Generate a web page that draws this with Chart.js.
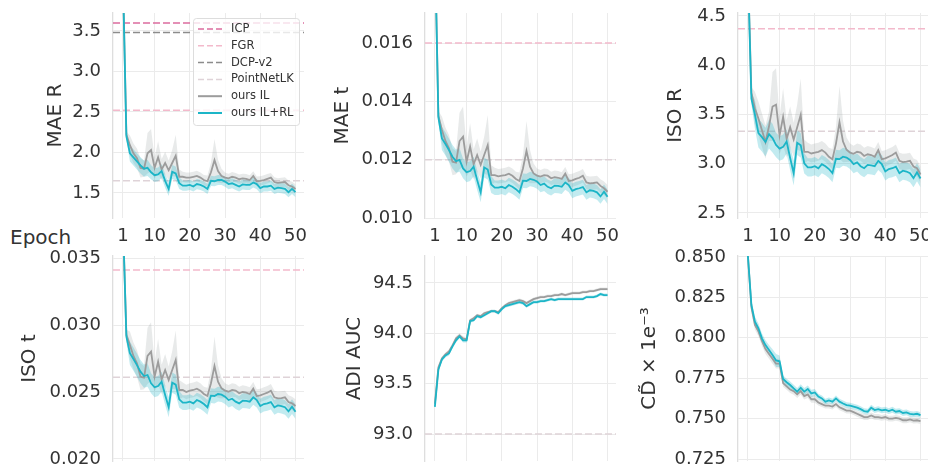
<!DOCTYPE html>
<html>
<head>
<meta charset="utf-8">
<script src="https://cdn.jsdelivr.net/npm/chart.js@4.4.0/dist/chart.umd.min.js"></script>
<style>
  html, body { margin: 0; padding: 0; background: #fff; overflow: hidden; width: 928px; height: 472px; }
  canvas { position: absolute; }
  #epoch { position: absolute; left: 10px; top: 227px; font-family: "DejaVu Sans"; font-size: 20px; line-height: 20px; color: #333; }
</style>
</head>
<body>
<div id="epoch">Epoch</div>
<script>
// ---- data ----
const epochs = Array.from({ length: 50 }, (_, i) => i + 1);
const xTicks = [1, 10, 20, 30, 40, 50];
const methodNames = ['ICP', 'FGR', 'DCP-v2', 'PointNetLK', 'ours IL', 'ours IL+RL'];

// MAE R
const maeRTicks = [1.5, 2.0, 2.5, 3.0, 3.5];
const maeRBaselines = [3.60, 2.52, 3.48, 1.65];
const maeRIl = [4.20, 2.22, 2.09, 1.99, 1.93, 1.81, 1.80, 1.99, 2.03, 1.81,
  1.94, 1.79, 1.87, 1.78, 1.87, 1.96, 1.70, 1.70, 1.69, 1.69,
  1.70, 1.71, 1.69, 1.66, 1.645, 1.755, 1.905, 1.77, 1.71, 1.69,
  1.68, 1.70, 1.69, 1.67, 1.68, 1.675, 1.66, 1.71, 1.645, 1.65,
  1.66, 1.675, 1.69, 1.635, 1.625, 1.63, 1.635, 1.595, 1.58, 1.55];
const maeRIlBand = [0, 0.04, 0.12, 0.12, 0.12, 0.12, 0.10, 0.25, 0.26, 0.13,
  0.20, 0.13, 0.14, 0.12, 0.16, 0.26, 0.09, 0.063, 0.063, 0.063,
  0.063, 0.063, 0.063, 0.063, 0.072, 0.12, 0.26, 0.14, 0.09, 0.063,
  0.058, 0.058, 0.058, 0.058, 0.058, 0.058, 0.058, 0.058, 0.058, 0.058,
  0.058, 0.058, 0.058, 0.058, 0.058, 0.058, 0.058, 0.058, 0.058, 0.058];
const maeRIlRl = [4.20, 2.20, 1.99, 1.94, 1.89, 1.84, 1.80, 1.81, 1.755, 1.72,
  1.73, 1.77, 1.65, 1.55, 1.76, 1.74, 1.62, 1.59, 1.59, 1.60,
  1.58, 1.61, 1.60, 1.58, 1.55, 1.65, 1.645, 1.66, 1.66, 1.64,
  1.61, 1.62, 1.60, 1.58, 1.605, 1.60, 1.60, 1.63, 1.61, 1.56,
  1.58, 1.58, 1.59, 1.55, 1.565, 1.56, 1.55, 1.51, 1.55, 1.51];
const maeRIlRlBand = [0, 0.04, 0.10, 0.10, 0.10, 0.10, 0.10, 0.10, 0.086, 0.086,
  0.086, 0.086, 0.086, 0.086, 0.086, 0.086, 0.072, 0.063, 0.063, 0.063,
  0.063, 0.063, 0.063, 0.063, 0.063, 0.063, 0.063, 0.063, 0.063, 0.063,
  0.063, 0.063, 0.063, 0.063, 0.063, 0.063, 0.063, 0.063, 0.063, 0.063,
  0.063, 0.063, 0.063, 0.063, 0.063, 0.063, 0.063, 0.063, 0.063, 0.063];

// MAE t
const maeTTicks = [0.010, 0.012, 0.014, 0.016];
const maeTBaselines = [null, 0.0160, null, 0.0120];
const maeTIl = [0.0195, 0.01350, 0.01302, 0.01264, 0.01239, 0.01193, 0.01190, 0.01264, 0.01279, 0.01193,
  0.01245, 0.01184, 0.01216, 0.01182, 0.01216, 0.01250, 0.01147, 0.01147, 0.01143, 0.01145,
  0.01147, 0.01152, 0.01145, 0.01134, 0.01127, 0.01170, 0.01230, 0.01176, 0.01153, 0.01145,
  0.01142, 0.01147, 0.01145, 0.01136, 0.01140, 0.01138, 0.01134, 0.01152, 0.01127, 0.01129,
  0.01134, 0.01138, 0.01145, 0.01122, 0.01119, 0.01120, 0.01122, 0.01110, 0.01102, 0.01090];
const maeTIlBand = [0, 0.00017, 0.00046, 0.00046, 0.00046, 0.00046, 0.0004, 0.00097, 0.00103, 0.00051,
  0.0008, 0.00051, 0.00057, 0.00046, 0.00063, 0.00103, 0.00034, 0.00025, 0.00025, 0.00025,
  0.00025, 0.00025, 0.00025, 0.00025, 0.00029, 0.00046, 0.00103, 0.00057, 0.00034, 0.00025,
  0.00023, 0.00023, 0.00023, 0.00023, 0.00023, 0.00023, 0.00023, 0.00023, 0.00023, 0.00023,
  0.00023, 0.00023, 0.00023, 0.00023, 0.00023, 0.00023, 0.00023, 0.00023, 0.00023, 0.00023];
const maeTIlRl = [0.0195, 0.01345, 0.01273, 0.01254, 0.01233, 0.01210, 0.01195, 0.01199, 0.01170, 0.01157,
  0.01161, 0.01176, 0.01130, 0.01088, 0.01173, 0.01166, 0.01115, 0.01104, 0.01104, 0.01107,
  0.01102, 0.01113, 0.01107, 0.01099, 0.01088, 0.01128, 0.01127, 0.01134, 0.01131, 0.01125,
  0.01113, 0.01118, 0.01107, 0.01102, 0.01111, 0.01110, 0.01107, 0.01122, 0.01113, 0.01093,
  0.01099, 0.01102, 0.01106, 0.01088, 0.01095, 0.01093, 0.01088, 0.01074, 0.01090, 0.01073];
const maeTIlRlBand = [0, 0.00017, 0.0004, 0.0004, 0.0004, 0.0004, 0.0004, 0.0004, 0.00034, 0.00034,
  0.00034, 0.00034, 0.00034, 0.00034, 0.00034, 0.00034, 0.00029, 0.00025, 0.00025, 0.00025,
  0.00025, 0.00025, 0.00025, 0.00025, 0.00025, 0.00025, 0.00025, 0.00025, 0.00025, 0.00025,
  0.00025, 0.00025, 0.00025, 0.00025, 0.00025, 0.00025, 0.00025, 0.00025, 0.00025, 0.00025,
  0.00025, 0.00025, 0.00025, 0.00025, 0.00025, 0.00025, 0.00025, 0.00025, 0.00025, 0.00025];

// ISO R
const isoRTicks = [2.5, 3.0, 3.5, 4.0, 4.5];
const isoRBaselines = [null, 4.37, null, 3.33];
const isoRIl = [5.00, 3.72, 3.56, 3.46, 3.34, 3.22, 3.38, 3.58, 3.60, 3.288,
  3.475, 3.254, 3.371, 3.246, 3.371, 3.496, 3.121, 3.121, 3.104, 3.113,
  3.121, 3.138, 3.113, 3.071, 3.046, 3.204, 3.421, 3.225, 3.142, 3.113,
  3.100, 3.121, 3.113, 3.079, 3.096, 3.088, 3.071, 3.138, 3.046, 3.054,
  3.071, 3.088, 3.113, 3.029, 3.017, 3.021, 3.029, 2.971, 2.954, 2.890];
const isoRIlBand = [0, 0.06, 0.17, 0.17, 0.17, 0.17, 0.15, 0.35, 0.37, 0.19,
  0.29, 0.19, 0.21, 0.17, 0.23, 0.37, 0.125, 0.092, 0.092, 0.092,
  0.092, 0.092, 0.092, 0.092, 0.104, 0.17, 0.37, 0.21, 0.125, 0.092,
  0.083, 0.083, 0.083, 0.083, 0.083, 0.083, 0.083, 0.083, 0.083, 0.083,
  0.083, 0.083, 0.083, 0.083, 0.083, 0.083, 0.083, 0.083, 0.083, 0.083];
const isoRIlRl = [5.00, 3.66, 3.50, 3.31, 3.27, 3.22, 3.30, 3.26, 3.19, 3.154,
  3.171, 3.225, 3.058, 2.904, 3.213, 3.188, 3.004, 2.963, 2.963, 2.975,
  2.954, 2.996, 2.975, 2.946, 2.904, 3.050, 3.046, 3.071, 3.063, 3.038,
  2.996, 3.013, 2.975, 2.954, 2.988, 2.983, 2.975, 3.029, 2.996, 2.921,
  2.946, 2.954, 2.971, 2.904, 2.929, 2.921, 2.904, 2.854, 2.913, 2.850];
const isoRIlRlBand = [0, 0.06, 0.146, 0.146, 0.146, 0.146, 0.146, 0.146, 0.125, 0.125,
  0.125, 0.125, 0.125, 0.125, 0.125, 0.125, 0.104, 0.092, 0.092, 0.092,
  0.092, 0.092, 0.092, 0.092, 0.092, 0.092, 0.092, 0.092, 0.092, 0.092,
  0.092, 0.092, 0.092, 0.092, 0.092, 0.092, 0.092, 0.092, 0.092, 0.092,
  0.092, 0.092, 0.092, 0.092, 0.092, 0.092, 0.092, 0.092, 0.092, 0.092];

// ISO t
const isoTTicks = [0.020, 0.025, 0.030, 0.035];
const isoTBaselines = [null, 0.0341, null, 0.0261];
const isoTIl = [0.0380, 0.02925, 0.02851, 0.02769, 0.02714, 0.02614, 0.02607, 0.02769, 0.02801, 0.02614,
  0.02726, 0.02594, 0.02664, 0.02590, 0.02664, 0.02739, 0.02515, 0.02515, 0.02500, 0.02510,
  0.02515, 0.02525, 0.02510, 0.02485, 0.02470, 0.02565, 0.02694, 0.02577, 0.02527, 0.02510,
  0.02502, 0.02515, 0.02510, 0.02490, 0.02500, 0.02495, 0.02485, 0.02525, 0.02470, 0.02475,
  0.02485, 0.02495, 0.02510, 0.02460, 0.02452, 0.02455, 0.02460, 0.02425, 0.02415, 0.02395];
const isoTIlBand = [0, 0.0004, 0.001, 0.001, 0.001, 0.001, 0.00087, 0.0021, 0.0022, 0.0011,
  0.0017, 0.0011, 0.0012, 0.001, 0.0014, 0.0022, 0.00075, 0.00055, 0.00055, 0.00055,
  0.00055, 0.00055, 0.00055, 0.00055, 0.00062, 0.001, 0.0022, 0.0012, 0.00075, 0.00055,
  0.0005, 0.0005, 0.0005, 0.0005, 0.0005, 0.0005, 0.0005, 0.0005, 0.0005, 0.0005,
  0.0005, 0.0005, 0.0005, 0.0005, 0.0005, 0.0005, 0.0005, 0.0005, 0.0005, 0.0005];
const isoTIlRl = [0.0380, 0.02913, 0.02789, 0.02746, 0.02701, 0.02652, 0.02619, 0.02627, 0.02565, 0.02535,
  0.02545, 0.02577, 0.02478, 0.02386, 0.02570, 0.02555, 0.02445, 0.02420, 0.02420, 0.02428,
  0.02415, 0.02440, 0.02428, 0.02410, 0.02386, 0.02473, 0.02470, 0.02485, 0.02480, 0.02465,
  0.02440, 0.02450, 0.02428, 0.02415, 0.02435, 0.02433, 0.02428, 0.02460, 0.02440, 0.02395,
  0.02410, 0.02415, 0.02425, 0.02386, 0.02400, 0.02395, 0.02386, 0.02356, 0.02390, 0.02353];
const isoTIlRlBand = [0, 0.0004, 0.00087, 0.00087, 0.00087, 0.00087, 0.00087, 0.00087, 0.00075, 0.00075,
  0.00075, 0.00075, 0.00075, 0.00075, 0.00075, 0.00075, 0.00062, 0.00055, 0.00055, 0.00055,
  0.00055, 0.00055, 0.00055, 0.00055, 0.00055, 0.00055, 0.00055, 0.00055, 0.00055, 0.00055,
  0.00055, 0.00055, 0.00055, 0.00055, 0.00055, 0.00055, 0.00055, 0.00055, 0.00055, 0.00055,
  0.00055, 0.00055, 0.00055, 0.00055, 0.00055, 0.00055, 0.00055, 0.00055, 0.00055, 0.00055];

// ADI AUC
const adiTicks = [93.0, 93.5, 94.0, 94.5];
const adiBaselines = [null, null, null, 93.0];
const adiIl = [93.30, 93.66, 93.75, 93.79, 93.82, 93.88, 93.95, 93.98, 93.95, 93.94,
  94.13, 94.15, 94.18, 94.17, 94.20, 94.21, 94.22, 94.22, 94.21, 94.25,
  94.28, 94.30, 94.31, 94.32, 94.33, 94.32, 94.30, 94.32, 94.34, 94.35,
  94.36, 94.36, 94.37, 94.37, 94.38, 94.38, 94.39, 94.38, 94.39, 94.40,
  94.40, 94.40, 94.41, 94.41, 94.42, 94.42, 94.43, 94.44, 94.44, 94.44];
const adiIlBand = [0.03, 0.025, 0.02, 0.02, 0.02, 0.02, 0.02, 0.02, 0.02, 0.02,
  0.015, 0.015, 0.015, 0.015, 0.015, 0.015, 0.015, 0.015, 0.015, 0.015,
  0.015, 0.015, 0.015, 0.015, 0.015, 0.015, 0.015, 0.015, 0.015, 0.015,
  0.015, 0.015, 0.015, 0.015, 0.015, 0.015, 0.015, 0.015, 0.015, 0.015,
  0.015, 0.015, 0.015, 0.015, 0.015, 0.015, 0.015, 0.015, 0.015, 0.015];
const adiIlRl = [93.27, 93.64, 93.74, 93.78, 93.80, 93.87, 93.93, 93.97, 93.93, 93.93,
  94.12, 94.13, 94.17, 94.16, 94.18, 94.20, 94.22, 94.22, 94.20, 94.24,
  94.27, 94.28, 94.29, 94.30, 94.31, 94.30, 94.27, 94.29, 94.31, 94.31,
  94.32, 94.32, 94.33, 94.34, 94.33, 94.34, 94.34, 94.34, 94.34, 94.34,
  94.34, 94.34, 94.34, 94.36, 94.36, 94.36, 94.37, 94.39, 94.38, 94.38];
const adiIlRlBand = [0.03, 0.025, 0.02, 0.02, 0.02, 0.02, 0.02, 0.02, 0.02, 0.02,
  0.015, 0.015, 0.015, 0.015, 0.015, 0.015, 0.015, 0.015, 0.015, 0.015,
  0.015, 0.015, 0.015, 0.015, 0.015, 0.015, 0.015, 0.015, 0.015, 0.015,
  0.015, 0.015, 0.015, 0.015, 0.015, 0.015, 0.015, 0.015, 0.015, 0.015,
  0.015, 0.015, 0.015, 0.015, 0.015, 0.015, 0.015, 0.015, 0.015, 0.015];

// Chamfer distance
const cdTicks = [0.725, 0.750, 0.775, 0.800, 0.825, 0.850];
const cdBaselines = [null, null, null, null];
const cdIl = [0.851, 0.8190, 0.8080, 0.8040, 0.7980, 0.7930, 0.7900, 0.7870, 0.7840, 0.7840,
  0.7720, 0.7700, 0.7680, 0.7670, 0.7650, 0.7670, 0.7640, 0.7650, 0.7620, 0.7620,
  0.7600, 0.7590, 0.7580, 0.7580, 0.7575, 0.7590, 0.7570, 0.7560, 0.7550, 0.7550,
  0.7540, 0.7530, 0.7520, 0.7510, 0.7510, 0.7520, 0.7510, 0.7510, 0.7505, 0.7510,
  0.7500, 0.7500, 0.7505, 0.7500, 0.7490, 0.7490, 0.7495, 0.7488, 0.7490, 0.7485];
const cdIlBand = [0.003, 0.003, 0.003, 0.003, 0.003, 0.003, 0.003, 0.003, 0.003, 0.003,
  0.0022, 0.0022, 0.0022, 0.0022, 0.0022, 0.0022, 0.0022, 0.0022, 0.0022, 0.0022,
  0.0018, 0.0018, 0.0018, 0.0018, 0.0018, 0.0018, 0.0018, 0.0018, 0.0018, 0.0018,
  0.0018, 0.0018, 0.0018, 0.0018, 0.0018, 0.0018, 0.0018, 0.0018, 0.0018, 0.0018,
  0.0018, 0.0018, 0.0018, 0.0018, 0.0018, 0.0018, 0.0018, 0.0018, 0.0018, 0.0018];
const cdIlRl = [0.851, 0.8203, 0.8100, 0.8059, 0.7997, 0.7955, 0.7925, 0.7894, 0.7860, 0.7855,
  0.7745, 0.7725, 0.7708, 0.7687, 0.7667, 0.7691, 0.7667, 0.7683, 0.7656, 0.7662,
  0.7636, 0.7625, 0.7605, 0.7613, 0.7605, 0.7625, 0.7605, 0.7594, 0.7584, 0.7580,
  0.7574, 0.7568, 0.7559, 0.7547, 0.7543, 0.7568, 0.7553, 0.7559, 0.7551, 0.7555,
  0.7547, 0.7555, 0.7543, 0.7547, 0.7535, 0.7539, 0.7530, 0.7526, 0.7530, 0.7522];
const cdIlRlBand = [0.003, 0.003, 0.003, 0.003, 0.003, 0.003, 0.003, 0.0035, 0.004, 0.0035,
  0.0022, 0.0022, 0.0022, 0.0022, 0.0022, 0.0022, 0.0022, 0.0022, 0.0022, 0.0022,
  0.0018, 0.0018, 0.0018, 0.0018, 0.0018, 0.0018, 0.0018, 0.0018, 0.0018, 0.0018,
  0.0018, 0.0018, 0.0018, 0.0018, 0.0018, 0.0018, 0.0018, 0.0018, 0.0018, 0.0018,
  0.0018, 0.0018, 0.0018, 0.0018, 0.0018, 0.0018, 0.0018, 0.0018, 0.0018, 0.0018];

// ---- styles ----
const textColor = '#333333';
const gridColor = '#ebebeb';
const colIlRl = '#1cb5c7';
const colIl = '#9c9c9c';
const bandIlRl = 'rgba(28,181,199,0.27)';
const bandIl = 'rgba(140,150,150,0.20)';
const baseColors = ['#dc6c9e', '#f3b9cb', '#8c8c8c', '#dfd3d8'];
const xMin = -1.8, xMax = 52.4;

const colLeft = [0, 310, 620];
const axisW = [113, 115, 118];
const plotW = 191, padRight = 12;
const rowTop = [0, 240], rowH = [250, 240], rowPadTop = [13, 16], rowXH = [32, 19];

const panels = [
  { title: 'MAE R', ticks: maeRTicks, digits: 1, min: 1.191, max: 3.722, base: maeRBaselines,
    il: maeRIl, ilBand: maeRIlBand, rl: maeRIlRl, rlBand: maeRIlRlBand, row: 0, col: 0, titlePad: 44 },
  { title: 'MAE t', ticks: maeTTicks, digits: 3, min: 0.0100, max: 0.01703, base: maeTBaselines,
    il: maeTIl, ilBand: maeTIlBand, rl: maeTIlRl, rlBand: maeTIlRlBand, row: 0, col: 1, titlePad: 21 },
  { title: 'ISO R', ticks: isoRTicks, digits: 1, min: 2.449, max: 4.530, base: isoRBaselines,
    il: isoRIl, ilBand: isoRIlBand, rl: isoRIlRl, rlBand: isoRIlRlBand, row: 0, col: 2, titlePad: 44 },
  { title: 'ISO t', ticks: isoTTicks, digits: 3, min: 0.01985, max: 0.03515, base: isoTBaselines,
    il: isoTIl, ilBand: isoTIlBand, rl: isoTIlRl, rlBand: isoTIlRlBand, row: 1, col: 0, titlePad: 18 },
  { title: 'ADI AUC', ticks: adiTicks, digits: 1, min: 92.732, max: 94.768, base: adiBaselines,
    il: adiIl, ilBand: adiIlBand, rl: adiIlRl, rlBand: adiIlRlBand, row: 1, col: 1, titlePad: 33 },
  { title: 'CD\u0303 \u00D7 1e\u207B\u00B3', ticks: cdTicks, digits: 3, min: 0.7238, max: 0.8506, base: cdBaselines,
    il: cdIl, ilBand: cdIlBand, rl: cdIlRl, rlBand: cdIlRlBand, row: 1, col: 2, titlePad: 18 }
];

// legend box drawn inside the first panel
const legendBox = {
  id: 'legendBox',
  afterDatasetsDraw(chart) {
    const { ctx, chartArea } = chart;
    const w = 106, h = 107;
    const x0 = chartArea.right - w - 5, y0 = chartArea.top + 5;
    const styles = [
      { c: baseColors[0], dash: [6, 3], lw: 1.5 },
      { c: baseColors[1], dash: [6, 3], lw: 1.5 },
      { c: baseColors[2], dash: [6, 3], lw: 1.5 },
      { c: baseColors[3], dash: [6, 3], lw: 1.5 },
      { c: colIl, dash: [], lw: 2 },
      { c: colIlRl, dash: [], lw: 2 }
    ];
    ctx.save();
    ctx.fillStyle = 'rgba(255,255,255,0.8)';
    ctx.strokeStyle = '#dddddd';
    ctx.lineWidth = 1;
    ctx.beginPath();
    ctx.roundRect(x0 + 0.5, y0 + 0.5, w, h, 3);
    ctx.fill();
    ctx.stroke();
    ctx.font = '11.5px "DejaVu Sans"';
    ctx.textBaseline = 'middle';
    methodNames.forEach((name, i) => {
      const y = y0 + 11 + i * 16.8;
      ctx.strokeStyle = styles[i].c;
      ctx.lineWidth = styles[i].lw;
      ctx.setLineDash(styles[i].dash);
      ctx.beginPath();
      ctx.moveTo(x0 + 5, y);
      ctx.lineTo(x0 + 29, y);
      ctx.stroke();
      ctx.fillStyle = textColor;
      ctx.fillText(name, x0 + 38, y);
    });
    ctx.restore();
  }
};

function pts(values, shift, sign) {
  return epochs.map((e, i) => ({ x: e, y: values[i] + (shift ? sign * shift[i] : 0) }));
}

function buildDatasets(p) {
  const ds = [];
  ds.push({ label: 'ours IL+RL', data: pts(p.rl), borderColor: colIlRl, borderWidth: 1.8, fill: false, order: 0 });
  ds.push({ label: 'ours IL', data: pts(p.il), borderColor: colIl, borderWidth: 1.8, fill: false, order: 1 });
  ds.push({ data: pts(p.rl, p.rlBand, 1), borderWidth: 0, backgroundColor: bandIlRl, fill: '+1', order: 2 });
  ds.push({ data: pts(p.rl, p.rlBand, -1), borderWidth: 0, fill: false, order: 2 });
  ds.push({ data: pts(p.il, p.ilBand, 1), borderWidth: 0, backgroundColor: bandIl, fill: '+1', order: 3 });
  ds.push({ data: pts(p.il, p.ilBand, -1), borderWidth: 0, fill: false, order: 3 });
  p.base.forEach((v, k) => {
    if (v === null) return;
    ds.push({ label: methodNames[k], data: [{ x: xMin, y: v }, { x: xMax, y: v }],
      borderColor: baseColors[k], borderWidth: 1.5, borderDash: [7, 3], fill: false, order: 5 + k });
  });
  return ds;
}

Chart.defaults.font.family = '"DejaVu Sans"';
Chart.defaults.color = textColor;

panels.forEach((p, idx) => {
  const canvas = document.createElement('canvas');
  const w = axisW[p.col] + plotW + padRight;
  const h = rowH[p.row];
  canvas.width = w;
  canvas.height = h;
  canvas.style.left = colLeft[p.col] + 'px';
  canvas.style.top = rowTop[p.row] + 'px';
  canvas.style.width = w + 'px';
  canvas.style.height = h + 'px';
  document.body.appendChild(canvas);

  new Chart(canvas, {
    type: 'line',
    data: { datasets: buildDatasets(p) },
    plugins: idx === 0 ? [legendBox] : [],
    options: {
      responsive: false,
      animation: false,
      events: [],
      elements: { point: { radius: 0 }, line: { tension: 0 } },
      layout: { padding: { top: rowPadTop[p.row], right: padRight, left: 0, bottom: 0 } },
      plugins: { legend: { display: false }, tooltip: { enabled: false } },
      scales: {
        x: {
          type: 'linear',
          min: xMin,
          max: xMax,
          afterBuildTicks: s => { s.ticks = xTicks.map(v => ({ value: v })); },
          afterFit: s => { s.height = rowXH[p.row]; },
          grid: { color: gridColor, lineWidth: 1, drawTicks: false },
          border: { display: false },
          ticks: { display: p.row === 0, color: textColor, font: { size: 18 }, padding: 8,
            autoSkip: false, maxRotation: 0, callback: v => String(v) }
        },
        y: {
          type: 'linear',
          min: p.min,
          max: p.max,
          afterBuildTicks: s => { s.ticks = p.ticks.map(v => ({ value: v })); },
          afterFit: s => { s.width = axisW[p.col]; },
          // invisible tick marks push labels away from the axis without adding vertical padding
          grid: { color: gridColor, lineWidth: 1, drawTicks: true, tickLength: 10, tickColor: 'rgba(0,0,0,0)' },
          border: { display: true, color: '#dedede', width: 1.3 },
          ticks: { color: textColor, font: { size: 18 }, padding: 2, callback: v => v.toFixed(p.digits) },
          title: { display: true, text: p.title, color: textColor, font: { size: 20 },
            padding: { top: p.titlePad, bottom: 0 } }
        }
      }
    }
  });
});
</script>
</body>
</html>
